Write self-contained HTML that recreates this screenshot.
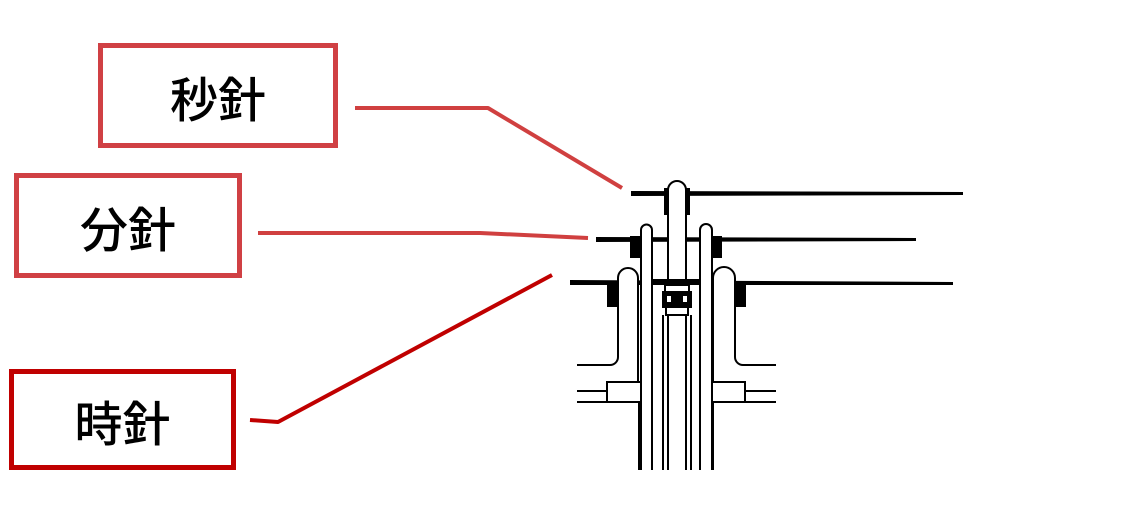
<!DOCTYPE html>
<html><head><meta charset="utf-8"><style>
body{margin:0;width:1140px;height:525px;background:#fff;overflow:hidden;position:relative}
.b{position:absolute;box-sizing:border-box;background:#fff;display:flex;align-items:center;justify-content:center;font-family:"Liberation Sans","Noto Sans CJK JP",sans-serif;font-size:48px;font-weight:500;color:#000}
</style></head><body>
<svg width="1140" height="525" style="position:absolute;left:0;top:0">
<g fill="none" stroke-linejoin="round">
<polyline points="355,108 488,108 622,188" stroke="#d04040" stroke-width="4"/>
<polyline points="258,233 480,233 588,238" stroke="#d04040" stroke-width="4"/>
<polyline points="250,420 278,422 552,275" stroke="#c00000" stroke-width="4"/>
</g>
<g fill="#000">
<!-- second hand -->
<polygon points="631,191 963,192 963,195 631,196"/>
<rect x="664" y="188" width="26" height="27"/>
<!-- minute hand -->
<polygon points="596,237 916,238 916,241 596,242"/>
<rect x="630" y="236" width="14" height="22"/>
<rect x="710" y="236" width="12" height="22"/>
<!-- hour hand -->
<polygon points="570,280 953,282 953,285 570,285"/>
<rect x="607" y="282" width="11" height="25"/>
<rect x="735" y="282" width="11" height="25"/>
</g>
<g fill="#fff" stroke="#000" stroke-width="2">
<!-- center pin -->
<path d="M668,280 V190 a9,9 0 0 1 18,0 V280"/>
<!-- minute tubes -->
<path d="M641,470 V230 a5.5,5.5 0 0 1 11,0 V470"/>
<path d="M700,470 V230 a6,6 0 0 1 12,0 V470"/>
<!-- hour pipes -->
<path d="M577,365 H610 a8,8 0 0 0 8,-8 V278 a10,10 0 0 1 20,0 V382"/>
<path d="M776,365 H743 a8,8 0 0 1 -8,-8 V278 a11,11 0 0 0 -22,0 V382"/>
</g>
<g fill="none" stroke="#000" stroke-width="2">
<!-- base plate -->
<path d="M577,391 H607 V382 H641 M607,391 V402 M577,402 H641"/>
<path d="M776,391 H745 V382 H712 M745,391 V402 M776,402 H712"/>
<line x1="639" y1="402" x2="639" y2="470"/>
<line x1="713" y1="402" x2="713" y2="470"/>
<!-- center block -->
<path d="M652,280 H700"/>
<rect x="665" y="285" width="24" height="7"/>
<rect x="666" y="307" width="22" height="8"/>
<rect x="663" y="292" width="28" height="15" fill="#000"/>
<line x1="668" y1="315" x2="668" y2="470"/>
<line x1="686" y1="315" x2="686" y2="470"/>
<line x1="663" y1="315" x2="663" y2="470"/>
<line x1="691" y1="315" x2="691" y2="470"/>
</g>
<rect x="667" y="296" width="4" height="6" fill="#fff"/>
<rect x="683" y="296" width="4" height="6" fill="#fff"/>
</svg>
<div class="b" style="left:98px;top:43px;width:240px;height:105px;border:5px solid #d04044">秒針</div>
<div class="b" style="left:14px;top:173px;width:228px;height:105px;border:5px solid #d04044">分針</div>
<div class="b" style="left:9px;top:369px;width:227px;height:101px;border:5px solid #c00000">時針</div>
</body></html>
